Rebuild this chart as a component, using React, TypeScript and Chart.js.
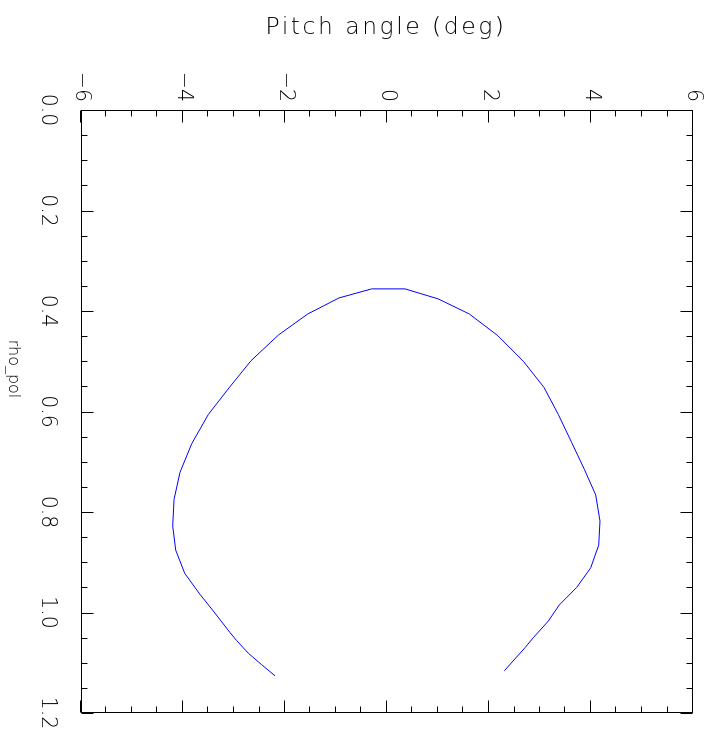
import React, { useEffect, useRef } from 'react';
import { Chart, registerables } from 'chart.js';

Chart.register(...registerables);

// Orbit trace: normalized poloidal radius vs pitch angle
const rhoPol = [
  1.126, 1.104, 1.081, 1.056, 1.040, 0.997, 0.964, 0.922, 0.876, 0.828,
  0.775, 0.721, 0.664, 0.606, 0.553, 0.499, 0.448, 0.406, 0.374, 0.356,
  0.356, 0.376, 0.406, 0.449, 0.500, 0.552, 0.606, 0.662, 0.715, 0.766,
  0.818, 0.866, 0.911, 0.950, 0.985, 1.017, 1.050, 1.070, 1.116,
];
const pitchDeg = [
  -2.196, -2.457, -2.720, -2.947, -3.078, -3.406, -3.667, -3.967, -4.143, -4.202,
  -4.176, -4.059, -3.829, -3.504, -3.098, -2.667, -2.131, -1.555, -0.941, -0.300,
  0.353, 1.006, 1.614, 2.171, 2.673, 3.078, 3.359, 3.622, 3.869, 4.092,
  4.176, 4.151, 3.994, 3.720, 3.378, 3.163, 2.869, 2.706, 2.300,
];

const rhoRange = [0, 1.2];
const pitchRange = [-6, 6];
const rhoMajorStep = 0.2;
const rhoMinorStep = 0.05;
const pitchMajorStep = 2;
const pitchMinorStep = 0.5;

const rhoTitle = 'rho_pol';
const pitchTitle = 'Pitch angle (deg)';

const FONT = '"DejaVu Sans", "Liberation Sans", sans-serif';

const framePlugin = {
  id: 'frame',
  afterDraw(chart: any) {
    const { ctx, chartArea: a, scales } = chart;
    const xs = scales.x;
    const ys = scales.y;
    const L = Math.round(a.left) + 0.5;
    const R = Math.round(a.right) - 0.5;
    const T = Math.round(a.top) + 0.5;
    const B = Math.round(a.bottom) - 0.5;
    ctx.save();
    ctx.strokeStyle = '#000';
    ctx.lineWidth = 1;
    ctx.strokeRect(L, T, R - L, B - T);
    ctx.beginPath();
    const nx = Math.round((rhoRange[1] - rhoRange[0]) / rhoMinorStep);
    const perX = Math.round(rhoMajorStep / rhoMinorStep);
    for (let i = 0; i <= nx; i++) {
      const v = rhoRange[0] + i * rhoMinorStep;
      const p = Math.round(xs.getPixelForValue(v)) + 0.5;
      const len = i % perX === 0 ? 12 : 6;
      ctx.moveTo(p, B); ctx.lineTo(p, B - len);
      ctx.moveTo(p, T); ctx.lineTo(p, T + len);
    }
    const ny = Math.round((pitchRange[1] - pitchRange[0]) / pitchMinorStep);
    const perY = Math.round(pitchMajorStep / pitchMinorStep);
    for (let i = 0; i <= ny; i++) {
      const v = pitchRange[0] + i * pitchMinorStep;
      const p = Math.round(ys.getPixelForValue(v)) + 0.5;
      const len = i % perY === 0 ? 12 : 6;
      ctx.moveTo(L, p); ctx.lineTo(L + len, p);
      ctx.moveTo(R, p); ctx.lineTo(R - len, p);
    }
    ctx.stroke();

    ctx.fillStyle = '#000';
    // pitch axis title (rotated, left of plot in unrotated frame)
    ctx.save();
    ctx.font = `200 23.5px ${FONT}`;
    (ctx as any).letterSpacing = '2.5px';
    ctx.translate(34, (a.top + a.bottom) / 2 + 1);
    ctx.rotate(-Math.PI / 2);
    ctx.textAlign = 'center';
    ctx.textBaseline = 'alphabetic';
    ctx.fillText(pitchTitle, 0, 0);
    ctx.restore();

    // rho axis title
    ctx.font = `200 16px ${FONT}`;
    ctx.textAlign = 'center';
    ctx.textBaseline = 'alphabetic';
    ctx.fillText(rhoTitle, 369, 696);
    ctx.restore();
  },
};

export default function App() {
  const ref = useRef<HTMLCanvasElement>(null);

  useEffect(() => {
    if (!ref.current) return;
    const chart = new Chart(ref.current, {
      type: 'scatter',
      data: {
        datasets: [
          {
            data: rhoPol.map((r, i) => ({ x: r, y: pitchDeg[i] })),
            showLine: true,
            borderColor: '#0000ff',
            borderWidth: 1,
            pointRadius: 0,
            tension: 0,
          },
        ],
      },
      options: {
        responsive: false,
        animation: false,
        devicePixelRatio: 1,
        layout: { padding: { top: 12, right: 27, left: 0, bottom: 0 } },
        plugins: { legend: { display: false }, tooltip: { enabled: false } },
        scales: {
          x: {
            type: 'linear',
            position: 'bottom',
            min: rhoRange[0],
            max: rhoRange[1],
            grid: { display: false, drawTicks: false },
            border: { display: false },
            ticks: {
              stepSize: rhoMajorStep,
              autoSkip: false,
              maxRotation: 0,
              minRotation: 0,
              padding: 21,
              color: '#000',
              font: { family: FONT, size: 20.5, weight: '200' as any },
              callback: (v: any) => Number(v).toFixed(1),
            },
            afterFit: (s: any) => {
              s.height = 81;
              s.paddingLeft = 0;
              s.paddingRight = 0;
            },
          },
          y: {
            type: 'linear',
            position: 'left',
            min: pitchRange[0],
            max: pitchRange[1],
            grid: { display: false, drawTicks: false },
            border: { display: false },
            ticks: {
              stepSize: pitchMajorStep,
              autoSkip: false,
              padding: 8,
              color: '#000',
              font: { family: FONT, size: 20.5, weight: '200' as any },
              callback: (v: any) => (Number(v) < 0 ? '\u2212' + Math.abs(Number(v)) : String(v)),
            },
            afterFit: (s: any) => {
              s.width = 110;
              s.paddingTop = 0;
              s.paddingBottom = 0;
            },
          },
        },
      },
      plugins: [framePlugin],
    });
    return () => chart.destroy();
  }, []);

  return (
    <div
      style={{
        position: 'fixed',
        left: 0,
        top: 0,
        width: 705,
        height: 740,
        overflow: 'hidden',
        background: '#fff',
      }}
    >
      <div
        style={{
          position: 'absolute',
          left: 0,
          top: 0,
          width: 740,
          height: 705,
          transformOrigin: '0 0',
          transform: 'translateX(705px) rotate(90deg)',
        }}
      >
        <canvas ref={ref} width={740} height={705} style={{ display: 'block' }} />
      </div>
    </div>
  );
}
